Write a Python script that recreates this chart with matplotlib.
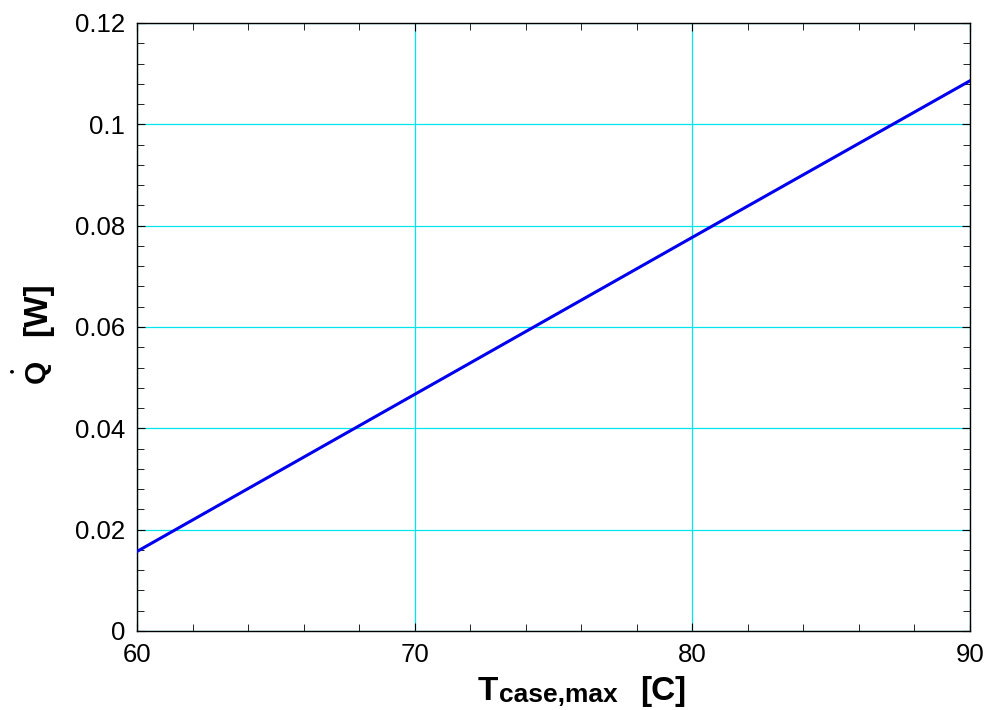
import matplotlib
matplotlib.use('Agg')
import matplotlib.pyplot as plt
from matplotlib.ticker import MultipleLocator

plt.rcParams['font.family'] = ['Liberation Sans', 'DejaVu Sans']

# case temperature [C] and heat load [W]
T_case = [60, 70, 80, 90]
Q_dot = [0.0157, 0.0467, 0.0777, 0.1086]
y_ticks = [0, 0.02, 0.04, 0.06, 0.08, 0.1, 0.12]
y_labels = ['0', '0.02', '0.04', '0.06', '0.08', '0.1', '0.12']

W, H = 987, 710
fig = plt.figure(figsize=(W / 100, H / 100), dpi=100)
ax = fig.add_axes([137 / W, 1 - 631 / H, 833 / W, 608 / H])

ax.plot(T_case, Q_dot, color='#0000ee', lw=2.2, zorder=3)

ax.set_xlim(60, 90)
ax.set_ylim(0, 0.12)
ax.xaxis.set_major_locator(MultipleLocator(10))
ax.xaxis.set_minor_locator(MultipleLocator(2))
ax.yaxis.set_minor_locator(MultipleLocator(0.004))
ax.set_yticks(y_ticks)
ax.set_yticklabels(y_labels)

ax.grid(True, which='major', color='#00e5ee', lw=0.9)
ax.tick_params(which='both', direction='in', top=True, right=True, labelsize=18.5, pad=8.5)
ax.tick_params(which='major', length=6)
ax.tick_params(which='minor', length=5)
for s in ax.spines.values():
    s.set_linewidth(1.0)

# x label: T with a large subscript
fig.text(478 / W, 1 - 700 / H, 'T', fontsize=24, fontweight='bold', ha='left', va='baseline')
fig.text(499 / W, 1 - 702 / H, 'case,max', fontsize=19, fontweight='bold', ha='left', va='baseline')
fig.text(640 / W, 1 - 700 / H, '[C]', fontsize=24, fontweight='bold', ha='left', va='baseline')

# y label: Q-dot [W]
fig.text(38 / W, 1 - 309 / H, '[W]', fontsize=24, fontweight='bold', rotation=90, ha='center', va='center')
fig.text(37 / W, 1 - 371 / H, 'Q', fontsize=21.5, fontweight='bold', rotation=90, ha='center', va='center')
fig.text(14 / W, 1 - 371 / H, '\u2022', fontsize=9, fontweight='bold', rotation=90, ha='center', va='center')

fig.savefig('out.png', dpi=100)
